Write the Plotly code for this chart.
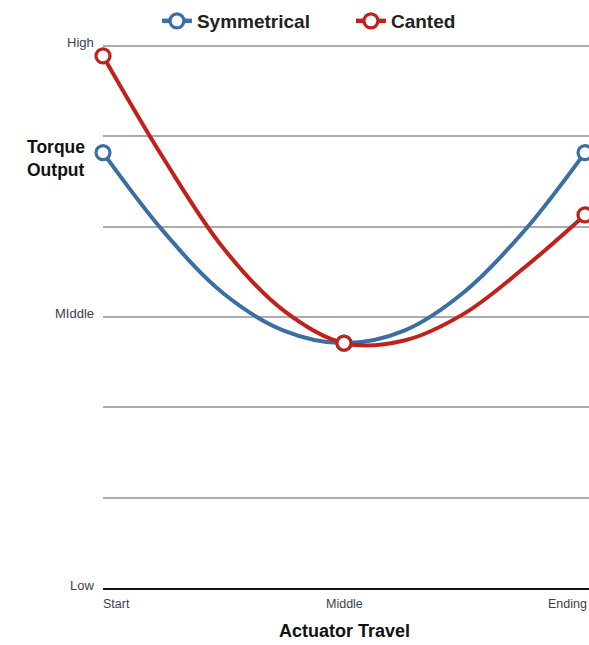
import plotly.graph_objects as go

# ---- data ----
x_positions = [0, 1, 2]
x_labels = ["Start", "Middle", "Ending"]
y_tick_vals = [0, 1, 2, 3, 4, 5, 6]
y_tick_labels = ["Low", "", "", "MIddle", "", "", "High"]

# marker points
symmetrical = [4.82, 2.71, 4.82]
canted = [5.89, 2.71, 4.13]

# curve readings (at quarter steps of travel)
curve_x = [0, 0.25, 0.5, 0.75, 1.0, 1.25, 1.5, 1.75, 2.0]
sym_curve_y = [4.82, 3.95, 3.26, 2.85, 2.71, 2.85, 3.28, 3.96, 4.82]
cant_curve_y = [5.89, 4.76, 3.76, 3.07, 2.71, 2.74, 3.04, 3.55, 4.13]

BLUE = "#3b6fa4"
RED = "#c0221b"
TICK_COLOR = "#3a3f4c"
FONT = "Liberation Sans Narrow, Liberation Sans, Arial, sans-serif"

fig = go.Figure()
series = [
    ("Symmetrical", sym_curve_y, symmetrical, BLUE),
    ("Canted", cant_curve_y, canted, RED),
]
marker_style = lambda col: dict(symbol="circle", size=14, color="white",
                                line=dict(color=col, width=3.2))
for name, cy, pts, col in series:
    fig.add_trace(go.Scatter(
        x=curve_x, y=cy, mode="lines", name=name, legendgroup=name, showlegend=False,
        line=dict(color=col, width=4, shape="spline", smoothing=1.0),
        hoverinfo="skip", cliponaxis=False,
    ))
for name, cy, pts, col in series:
    fig.add_trace(go.Scatter(
        x=x_positions, y=pts, name=name, legendgroup=name, mode="markers",
        showlegend=False, marker=marker_style(col), cliponaxis=False,
    ))
for name, cy, pts, col in series:
    fig.add_trace(go.Scatter(
        x=[None], y=[None], name=name, legendgroup=name, mode="lines+markers",
        line=dict(color=col, width=4.5), marker=marker_style(col),
        showlegend=True,
    ))

annotations = []
for v, t in zip(y_tick_vals, y_tick_labels):
    if t:
        annotations.append(dict(x=0, y=v, xref="x", yref="y", text=t,
                                showarrow=False, xanchor="right", yanchor="middle",
                                xshift=-7, yshift=3,
                                font=dict(family=FONT, size=13, color=TICK_COLOR)))
anchors = ["left", "center", "right"]
for xv, t, a in zip(x_positions, x_labels, anchors):
    annotations.append(dict(x=xv, y=0, xref="x", yref="y", text=t,
                            showarrow=False, xanchor=a, yanchor="middle",
                            xshift=(4 if a == "right" else -2 if a == "left" else 0),
                            yshift=-16,
                            font=dict(family=FONT, size=12.5, color=TICK_COLOR)))
annotations.append(dict(x=1, y=0, xref="x", yref="y", text="<b>Actuator Travel</b>",
                        showarrow=False, xanchor="center", yanchor="middle",
                        yshift=-43, font=dict(family=FONT, size=18, color="#111")))
annotations.append(dict(x=0, y=4.75, xref="x", yref="y", text="<b>Torque<br>Output</b>",
                        showarrow=False, xanchor="right", yanchor="middle", align="left",
                        xshift=-16, font=dict(family=FONT, size=17.5, color="#111")))

fig.update_layout(
    width=589, height=645,
    margin=dict(l=103, r=0, t=30, b=57, autoexpand=False),
    plot_bgcolor="white", paper_bgcolor="white",
    showlegend=True,
    legend=dict(orientation="h", x=0.111, y=1 - 2 / 645, xref="paper", yref="container",
                xanchor="left", yanchor="top",
                font=dict(family=FONT, size=19, color="#222", weight="bold"),
                entrywidth=149, itemwidth=30, bgcolor="rgba(0,0,0,0)"),
    xaxis=dict(range=[0, 2.0166], showgrid=False, zeroline=False,
               showticklabels=False, ticks="", showline=True,
               linecolor="#111", linewidth=2),
    yaxis=dict(range=[0, 6.177], tickvals=y_tick_vals, showticklabels=False,
               showgrid=True, gridcolor="#ababab", gridwidth=2, zeroline=False,
               ticks=""),
    annotations=annotations,
)

fig.write_html("out.html", config={"displayModeBar": False},
               post_script="document.body.style.margin='0';document.body.style.overflow='hidden';")
